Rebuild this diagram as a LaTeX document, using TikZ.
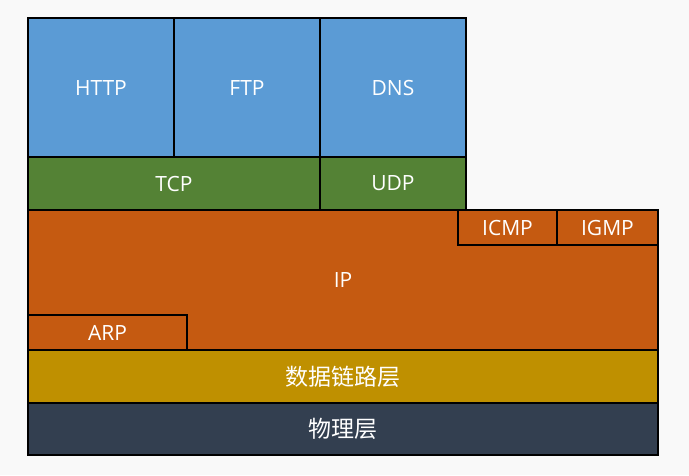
\documentclass[tikz,border=0pt]{standalone}
\usepackage{fontspec}
\setmainfont{Open Sans}
\newfontfamily\cjk{Noto Sans CJK SC}
\definecolor{bg}{HTML}{F9F9F9}
\definecolor{appblue}{HTML}{5B9BD5}
\definecolor{trgreen}{HTML}{548235}
\definecolor{iporange}{HTML}{C55A11}
\definecolor{linkgold}{HTML}{BF9000}
\definecolor{phydark}{HTML}{333F50}
\begin{document}
\begin{tikzpicture}[x=1pt,y=-1pt,
  layerbox/.style={draw=black, line width=1.3pt, inner sep=0pt, outer sep=0pt,
    anchor=north west, text=white, font=\fontsize{21}{24}\selectfont},
  cjkbox/.style={layerbox, font=\cjk\fontsize{23}{26}\selectfont},
]
\fill[bg] (0,0) rectangle (689,475);
\useasboundingbox (0,0) rectangle (689,475);
% application layer
\node[layerbox, fill=appblue, minimum width=146pt, minimum height=139pt] (http) at (28,18) {HTTP};
\node[layerbox, fill=appblue, minimum width=146pt, minimum height=139pt] (ftp) at (174,18) {FTP};
\node[layerbox, fill=appblue, minimum width=146pt, minimum height=139pt] (dns) at (320,18) {DNS};
% transport
\node[layerbox, fill=trgreen, minimum width=292pt, minimum height=53pt] (tcp) at (28,157) {TCP};
\node[layerbox, fill=trgreen, minimum width=146pt, minimum height=53pt] (udp) at (320,157) {UDP};
% network
\node[layerbox, fill=iporange, minimum width=630pt, minimum height=140pt] (ip) at (28,210) {IP};
\node[layerbox, fill=iporange, minimum width=99pt, minimum height=35pt] (icmp) at (458,210) {ICMP};
\node[layerbox, fill=iporange, minimum width=101pt, minimum height=35pt] (igmp) at (557,210) {IGMP};
\node[layerbox, fill=iporange, minimum width=159pt, minimum height=35pt] (arp) at (28,315) {ARP};
% link
\node[cjkbox, fill=linkgold, minimum width=630pt, minimum height=53pt] (link) at (28,350) {数据链路层};
% physical
\node[cjkbox, fill=phydark, minimum width=630pt, minimum height=52pt] (phy) at (28,403) {物理层};
\end{tikzpicture}
\end{document}
